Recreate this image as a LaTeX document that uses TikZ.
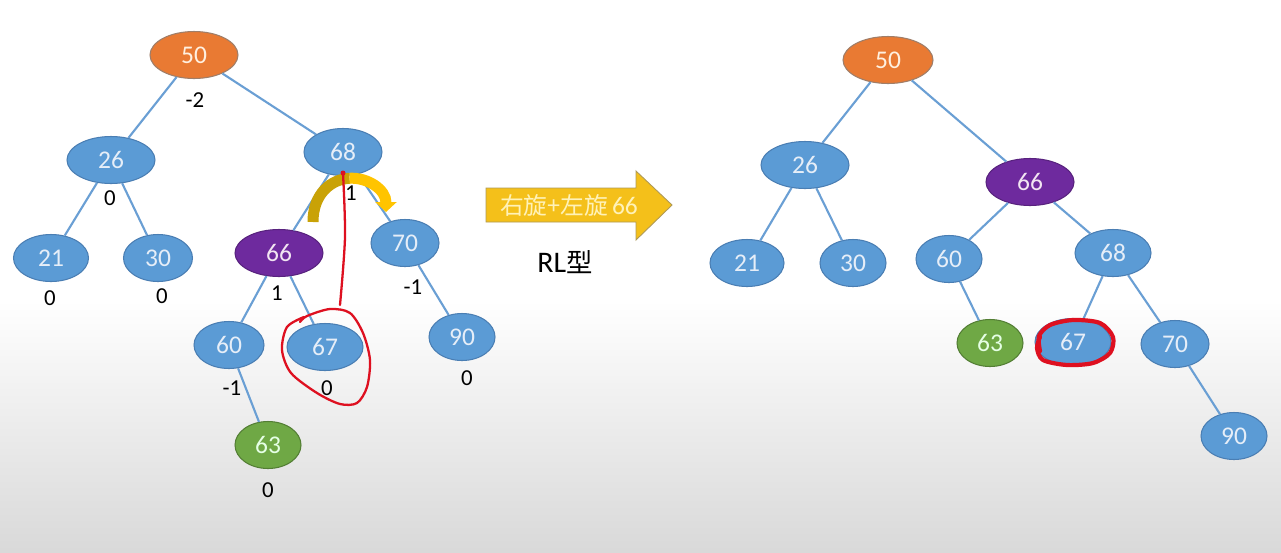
\documentclass[tikz,border=0pt]{standalone}
\usepackage{fontspec}
\setmainfont{Carlito}
\newfontfamily\cjk{Noto Sans CJK SC}
\usetikzlibrary{shapes.geometric,arrows.meta}
\definecolor{nblue}{HTML}{5B9BD5}
\definecolor{nborder}{HTML}{4A7EB3}
\definecolor{ntext}{HTML}{E6EEF8}
\definecolor{nline}{HTML}{6A9FD4}
\definecolor{norange}{HTML}{E97A33}
\definecolor{npurple}{HTML}{6E2A9E}
\definecolor{ngreen}{HTML}{6FA845}
\definecolor{arrfill}{HTML}{F4C01A}
\definecolor{arrtext}{HTML}{FFF2B8}
\definecolor{markred}{HTML}{DE1020}
\definecolor{bendleft}{HTML}{C9A206}
\definecolor{bendright}{HTML}{FFC400}
\begin{document}
\begin{tikzpicture}[x=0.02cm,y=-0.02cm,
  every node/.style={font=\fontsize{13}{15}\selectfont},
  tnode/.style={ellipse,draw=nborder,line width=0.6pt,fill=nblue,text=ntext,inner sep=0pt,
    minimum height=0.94cm,minimum width=#1*0.02cm,font=\fontsize{14.5}{16}\selectfont},
  tnode/.default=76,
  link/.style={draw=nline,line width=1.2pt},
  bf/.style={text=black,inner sep=1pt},
  redmark/.style={draw=markred,line width=1.3pt,line cap=round,line join=round}]
% background
\fill[white] (0,0) rectangle (1281,300);
\shade[top color=white,bottom color=gray!30] (0,300) rectangle (1281,552);
\useasboundingbox (0,0) rectangle (1281,552);
% Left tree: before rotation
\node[tnode=88,fill=norange,draw=gray!70!norange,text=orange!12] (L50) at (194,55) {50};
\node[tnode=88] (L26) at (111,160) {26};
\node[tnode=78] (L68) at (343,152) {68};
\node[tnode=75] (L21) at (51,258) {21};
\node[tnode=69] (L30) at (158,258) {30};
\node[tnode=88,fill=npurple,draw=npurple!80!black,text=violet!10] (L66) at (279,253) {66};
\node[tnode=68] (L70) at (405,243) {70};
\node[tnode=70] (L60) at (229,345) {60};
\node[tnode=76] (L67) at (325,347) {67};
\node[tnode=66] (L90) at (462,337) {90};
\node[tnode=66,fill=ngreen,draw=ngreen!75!black,text=green!10] (L63) at (268,445) {63};
\draw[link] (L50) -- (L26);
\draw[link] (L50) -- (L68);
\draw[link] (L26) -- (L21);
\draw[link] (L26) -- (L30);
\draw[link] (L68) -- (L66);
\draw[link] (L68) -- (L70);
\draw[link] (L66) -- (L60);
\draw[link] (L66) -- (L67);
\draw[link] (L70) -- (L90);
\draw[link] (L60) -- (L63);
% balance factors
\node[bf] (bL50) at (195,100) {-2};
\node[bf] (bL26) at (110,198) {0};
\node[bf] (bL68) at (351,193) {1};
\node[bf] (bL21) at (50,298) {0};
\node[bf] (bL30) at (162,296) {0};
\node[bf] (bL66) at (277,293) {1};
\node[bf] (bL70) at (413,287) {-1};
\node[bf] (bL60) at (232,388) {-1};
\node[bf] (bL67) at (327,388) {0};
\node[bf] (bL90) at (467,378) {0};
\node[bf] (bL63) at (268,490) {0};
% rotation hint over 68
\draw[bendleft,line width=0.22cm] (313,222) .. controls (313,193.5) and (331.25,179.25) .. (349.5,178.25);
\draw[bendright,line width=0.22cm,-{Triangle[width=0.42cm,length=0.2cm]}] (349.5,178.25) .. controls (367.75,177.25) and (386,189.5) .. (386,212);
% hand-drawn marks
\draw[redmark] plot[smooth] coordinates {(343,173) (345,237) (340,305)};
\fill[markred] (343,173) circle[radius=2.5];
\draw[redmark] plot[smooth] coordinates {(300,322) (307,316) (330,309) (350,313) (363,333) (370,360) (367,387) (357,403) (340,404) (317,393) (291,373) (282,350) (287,327) (304,317)};
% big arrow
\draw[fill=arrfill,draw=gray!60!arrfill,line width=0.5pt] (486,188) -- (636,188) -- (636,171) -- (672,205) -- (636,240) -- (636,222) -- (486,222) -- cycle;
\node[text=arrtext,inner sep=0pt] (rot) at (569,205) {{\cjk\fontsize{13.5}{15}\selectfont 右旋+左旋}\,{\fontsize{14.5}{16}\selectfont 66}};
\node[inner sep=0pt] (kind) at (565,262) {{\fontsize{17}{19}\selectfont RL}{\cjk\fontsize{15}{17}\selectfont 型}};
% Right tree: after rotation
\node[tnode=90,fill=norange,draw=gray!70!norange,text=orange!12] (R50) at (888,60) {50};
\node[tnode=88] (R26) at (805,165) {26};
\node[tnode=88,fill=npurple,draw=npurple!80!black,text=violet!10] (R66) at (1030,182) {66};
\node[tnode=74] (R21) at (747,263) {21};
\node[tnode=66] (R30) at (853,263) {30};
\node[tnode=66] (R60) at (949,259) {60};
\node[tnode=76] (R68) at (1113,253) {68};
\node[tnode=66,fill=ngreen,draw=ngreen!75!black,text=green!10] (R63) at (990,343) {63};
\node[tnode=76] (R67) at (1073,342) {67};
\node[tnode=68] (R70) at (1175,344) {70};
\node[tnode=66] (R90) at (1234,436) {90};
\draw[link] (R50) -- (R26);
\draw[link] (R50) -- (R66);
\draw[link] (R26) -- (R21);
\draw[link] (R26) -- (R30);
\draw[link] (R66) -- (R60);
\draw[link] (R66) -- (R68);
\draw[link] (R60) -- (R63);
\draw[link] (R68) -- (R67);
\draw[link] (R68) -- (R70);
\draw[link] (R70) -- (R90);
\draw[redmark,line width=2.4pt] plot[smooth] coordinates {(1040,351) (1039,336) (1050,325) (1073,320) (1100,323) (1113,337) (1110,353) (1093,363) (1067,365) (1043,360) (1037,348) (1040,337)};
\end{tikzpicture}
\end{document}
